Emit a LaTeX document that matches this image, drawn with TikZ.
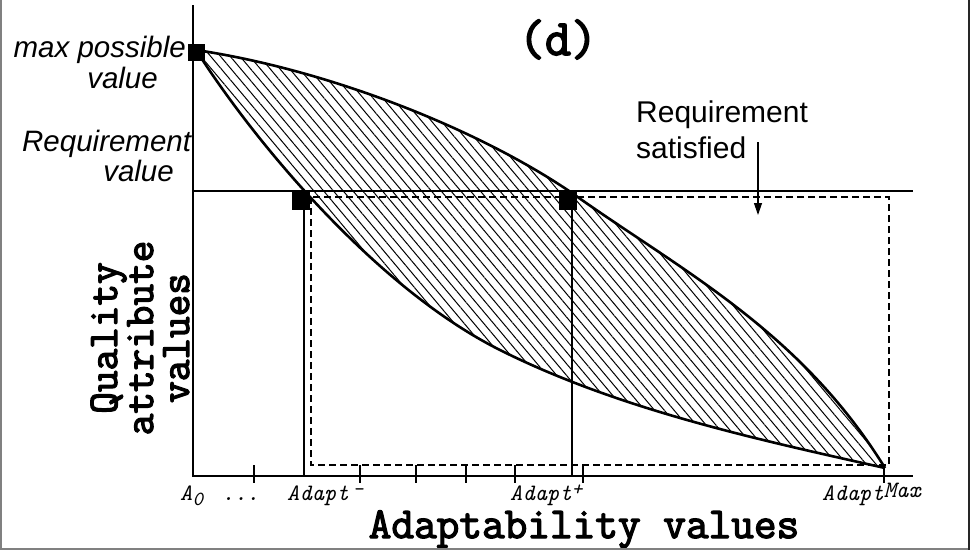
\documentclass[tikz,border=0pt]{standalone}
\usepackage{fontspec}
\newfontfamily\helv{Liberation Sans}
\newfontfamily\ttbold{Latin Modern Mono}[FakeBold=3]
\usetikzlibrary{positioning}
\usetikzlibrary{arrows.meta}
\usetikzlibrary{patterns.meta}
\newcommand\tsup[1]{\raisebox{5pt}{\fontsize{20}{20}\selectfont #1}}

\begin{document}
\begin{tikzpicture}[x=1pt, y=-1pt,
  axis/.style={line width=2.4pt},
  guide/.style={line width=1.2pt},
  curve/.style={line width=2.6pt},
  dashbox/.style={line width=1.2pt, dash pattern=on 7pt off 4pt},
  markbox/.style={fill=black, inner sep=0pt, minimum size=18pt},
  lab/.style={font=\helv\fontsize{30}{35}\selectfont, inner sep=0pt},
  itlab/.style={font=\helv\itshape\fontsize{29.5}{35}\selectfont, inner sep=0pt},
  ticklab/.style={font=\ttfamily\itshape\fontsize{23.5}{24}\selectfont, inner sep=0pt, anchor=base west},
  biglab/.style={font=\ttbold\fontsize{44}{36}\selectfont, inner sep=0pt}]
  \useasboundingbox (0,0) rectangle (972,552);

  \coordinate (O) at (193,476);
  \coordinate (yend) at (193,5);
  \coordinate (xend) at (913,476);
  \coordinate (req west) at (193,191);
  \coordinate (req east) at (913,191);
  \coordinate (start) at (196,50);
  \coordinate (mid) at (500,350);
  \coordinate (end) at (885,468);

  \fill[pattern={Lines[angle=-50, distance=7.5pt, line width=1pt]}]
    (start) .. controls (330,70) and (480,130) .. (572,193)
    .. controls (680,270) and (800,330) .. (end)
    .. controls (760,440) and (620,410) .. (mid)
    .. controls (380,290) and (260,150) .. (start) -- cycle;

  \draw[guide] (req west) -- (req east);
  \draw[dashbox] (311,197) rectangle (889,465);
  \foreach \x in {254,360,416,466,515,583,884}
    \draw[guide] (\x,465) -- (\x,483);

  \node[markbox, minimum size=17pt] (maxval) at (196,52) {};
  \node[markbox] (am) at (301,201) {};
  \node[markbox] (ap) at (568,201) {};
  \draw[guide] ([xshift=3pt]am.south) -- ([xshift=3pt]am.south |- O);
  \draw[guide] ([xshift=4pt]ap.south) -- ([xshift=4pt]ap.south |- O);

  \draw[axis] (yend) -- (O) -- (xend);

  \draw[curve] (start) .. controls (330,70) and (480,130) .. (572,193)
    .. controls (680,270) and (800,330) .. (end);
  \draw[curve] (start) .. controls (260,150) and (380,290) .. (mid)
    .. controls (620,410) and (760,440) .. (end);

  \node[biglab, font=\ttbold\fontsize{51}{51}\selectfont, anchor=base] (title) at (558,55) {(d)};

  \node[itlab, anchor=base east] (maxlab) at (186,57) {max possible};
  \node[itlab, anchor=base east] (maxlab2) at (158,88) {value};
  \node[itlab, anchor=base west] (reqlab) at (22,151) {Requirement};
  \node[itlab, anchor=base east] (reqlab2) at (174,181) {value};

  \node[lab, anchor=base west] (satlab) at (636,122) {Requirement};
  \node[lab, below=8pt of satlab.south west, anchor=north west] (satlab2) {satisfied};
  \coordinate (sat tail) at (758,142);
  \coordinate (sat tip) at (758,215);
  \draw[guide, -{Triangle[length=12pt, width=8pt]}] (sat tail) -- (sat tip);

  \node[ticklab] (a0) at (180,500) {A\raisebox{-5pt}{\fontsize{20}{20}\selectfont 0}};
  \node[ticklab] (dots) at (222,500) {...};
  \node[ticklab] (aminus) at (287,500) {Adapt\,\tsup{-}};
  \node[ticklab] (aplus) at (510,500) {Adapt\tsup{+}};
  \node[ticklab] (amax) at (822,500) {Adapt\raisebox{3pt}{Max}};

  \node[biglab, anchor=base] (xlab) at (584,538) {Adaptability values};
  \node[biglab, rotate=90, align=center, font=\ttbold\fontsize{42}{36}\selectfont] (ylab) at (140,338) {Quality\\attribute\\values};

  \draw[gray, line width=1.5pt] (1,0) -- (1,549) -- (969,549);
  \draw[black!85, line width=2pt] (969,0) -- (969,550);
\end{tikzpicture}
\end{document}
